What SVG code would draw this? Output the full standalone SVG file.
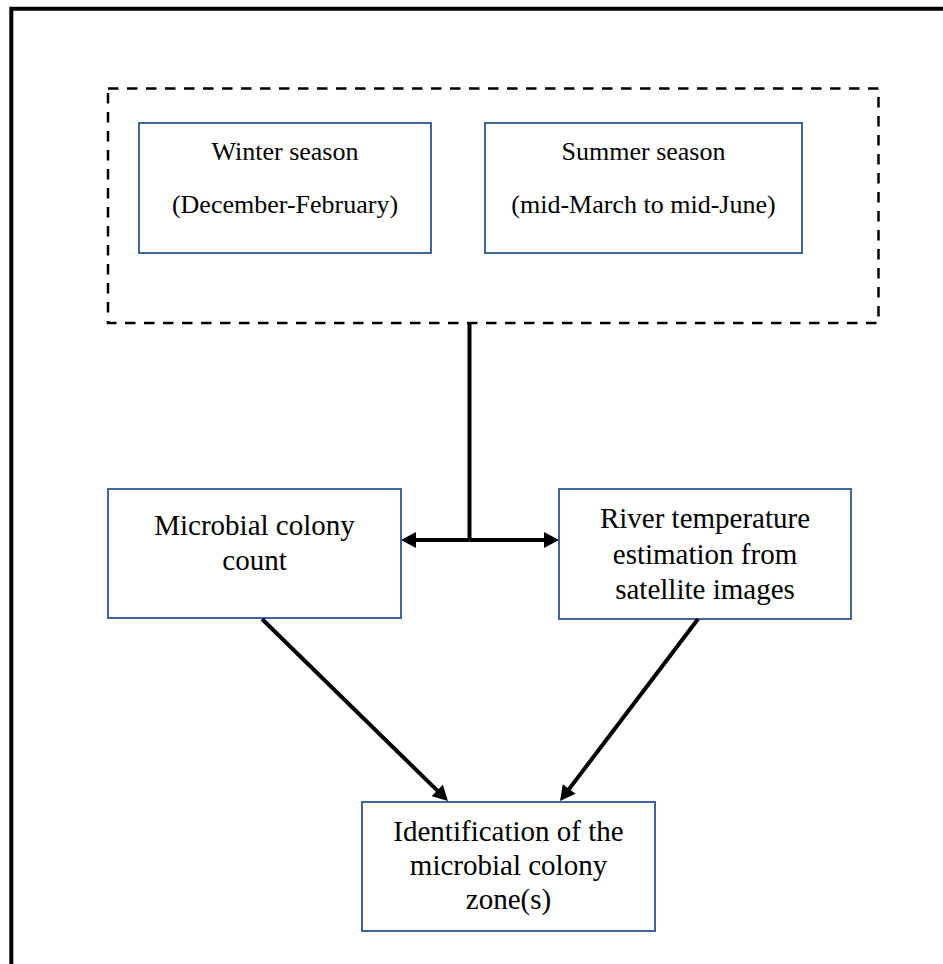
<svg xmlns="http://www.w3.org/2000/svg" width="943" height="964" viewBox="0 0 943 964">
<style>
.box{fill:#fff;stroke:#3F65A0;stroke-width:2}
.t26{font-family:"Liberation Serif","Times New Roman",serif;font-size:26px;fill:#000;text-anchor:middle}
.t29{font-family:"Liberation Serif","Times New Roman",serif;font-size:29px;fill:#000;text-anchor:middle}
.conn{stroke:#000;stroke-width:4;fill:none}
</style>
<defs>
<marker id="ah" markerUnits="userSpaceOnUse" markerWidth="16" markerHeight="16" viewBox="0 0 15 16" refX="3" refY="8" orient="auto">
<path d="M0,0 L15,8 L0,16 z" fill="#000"/>
</marker>
</defs>
<rect width="943" height="964" fill="#fff"/>
<path d="M11.3,970 V8.7 H950" fill="none" stroke="#000" stroke-width="4"/>
<g id="season-group">
<rect x="108" y="88.5" width="770.5" height="234.5" fill="none" stroke="#000" stroke-width="2.5" stroke-dasharray="10.5 8.5"/>
</g>
<g id="winter">
<rect class="box" x="139" y="123" width="292" height="130"/>
<text class="t26" x="285" y="160">Winter season</text>
<text class="t26" x="285" y="213">(December-February)</text>
</g>
<g id="summer">
<rect class="box" x="485" y="123" width="317" height="130"/>
<text class="t26" x="643.5" y="160">Summer season</text>
<text class="t26" x="643.5" y="213">(mid-March to mid-June)</text>
</g>
<g id="microbial">
<rect class="box" x="108" y="489" width="293" height="129"/>
<text class="t29" x="254.5" y="535">Microbial colony</text>
<text class="t29" x="254.5" y="570">count</text>
</g>
<g id="river">
<rect class="box" x="559" y="489" width="292" height="130"/>
<text class="t29" x="705" y="528">River temperature</text>
<text class="t29" x="705" y="564">estimation from</text>
<text class="t29" x="705" y="599">satellite images</text>
</g>
<g id="identification">
<rect class="box" x="362" y="802" width="293" height="129"/>
<text class="t29" x="508.5" y="841">Identification of the</text>
<text class="t29" x="508.5" y="875">microbial colony</text>
<text class="t29" x="508.5" y="909">zone(s)</text>
</g>
<g id="connectors">
<path class="conn" d="M469.5,323 V540"/>
<path class="conn" d="M469.5,540 H413" marker-end="url(#ah)"/>
<path class="conn" d="M469.5,540 H547" marker-end="url(#ah)"/>
<path class="conn" d="M262,619 L439.4,792.6" marker-end="url(#ah)"/>
<path class="conn" d="M698,619 L567.3,791.4" marker-end="url(#ah)"/>
</g>
</svg>
